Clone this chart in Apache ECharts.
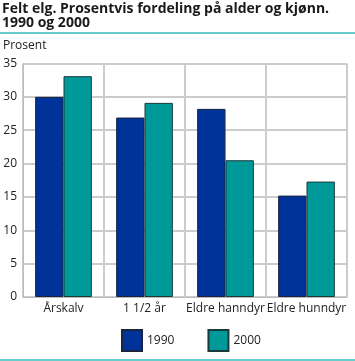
<!DOCTYPE html>
<html><head><meta charset="utf-8">
<script src="https://cdn.jsdelivr.net/npm/echarts@6/dist/echarts.min.js"></script>
<style>html,body{margin:0;padding:0;background:#fff}#c{width:355px;height:361px}</style>
</head><body><div id="c"></div>
<script>
const categories = ['Årskalv', '1 1/2 år', 'Eldre hanndyr', 'Eldre hunndyr'];
const seriesNames = ['1990', '2000'];
const values1990 = [30.0, 26.9, 28.2, 15.2];
const values2000 = [33.1, 29.1, 20.5, 17.3];
const yTicks = [0, 5, 10, 15, 20, 25, 30, 35];
const titleLines = ['Felt elg. Prosentvis fordeling på alder og kjønn.', '1990 og 2000'];
const unitText = 'Prosent';

const chart = echarts.init(document.getElementById('c'), null, {renderer: 'canvas'});
const font = 'Open Sans';
const titleStyle = {fontFamily: font, fontSize: 14, fontWeight: 'bold', fill: '#1a1a1a'};
chart.setOption({
  animation: false,
  textStyle: {fontFamily: font},
  graphic: {elements: [
    {type: 'text', left: 2, top: 2, z: 100, style: Object.assign({text: titleLines[0]}, titleStyle)},
    {type: 'text', left: 2, top: 16, z: 100, style: Object.assign({text: titleLines[1]}, titleStyle)},
    {type: 'rect', z: 100, shape: {x: 0, y: 32, width: 355, height: 2}, style: {fill: '#66cccc'}},
    {type: 'rect', z: 100, shape: {x: 0, y: 359, width: 355, height: 2}, style: {fill: '#66cccc'}},
    {type: 'text', left: 3, top: 40, z: 100, style: {text: unitText, fontFamily: font, fontSize: 12, fill: '#222'}}
  ]},
  legend: {
    data: seriesNames, bottom: 4, left: 116, itemWidth: 20, itemHeight: 21, itemGap: 33,
    textStyle: {fontFamily: font, fontSize: 12, color: '#222'},
    icon: 'rect'
  },
  grid: {left: 23, right: 8, top: 63.5, bottom: 64, containLabel: false},
  xAxis: {
    type: 'category', data: categories,
    axisLine: {show: true, lineStyle: {color: '#bbbbbb', width: 1}},
    axisTick: {show: false},
    axisLabel: {fontFamily: font, fontSize: 12, color: '#222', margin: 6, interval: 0},
    splitLine: {show: true, lineStyle: {color: '#cccccc', width: 2}}
  },
  yAxis: {
    type: 'value', min: yTicks[0], max: yTicks[yTicks.length - 1], interval: 5,
    axisLine: {show: true, lineStyle: {color: '#bbbbbb', width: 1}},
    axisTick: {show: false},
    axisLabel: {fontFamily: font, fontSize: 12, color: '#222', margin: 6},
    splitLine: {show: true, lineStyle: {color: '#cccccc', width: 2}}
  },
  series: [
    {name: seriesNames[0], type: 'bar', data: values1990, barGap: '0%', barCategoryGap: '30%',
      itemStyle: {color: '#003399', borderColor: '#1a2440', borderWidth: 1}},
    {name: seriesNames[1], type: 'bar', data: values2000, barGap: '0%', barCategoryGap: '30%',
      itemStyle: {color: '#009999', borderColor: '#1a3a3a', borderWidth: 1}}
  ]
});
</script></body></html>
